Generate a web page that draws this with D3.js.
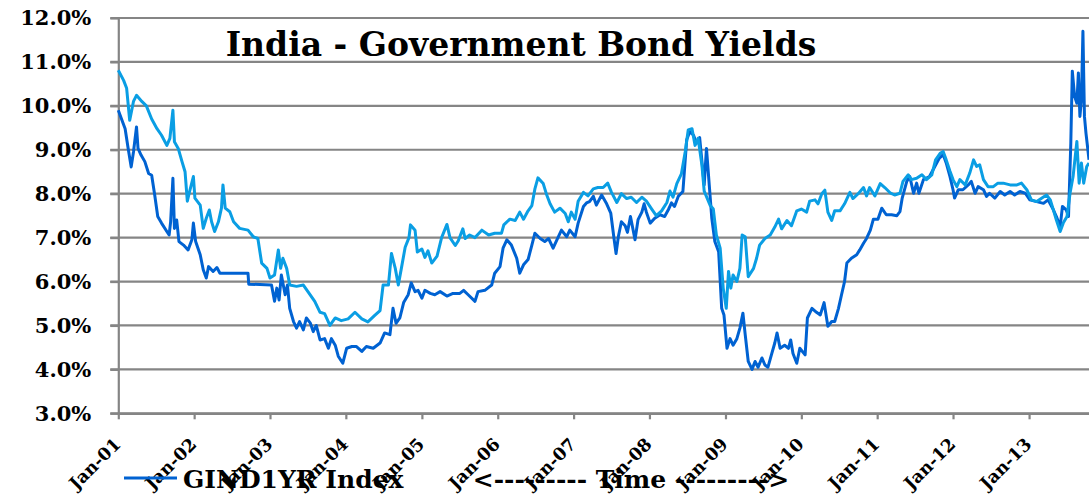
<!DOCTYPE html>
<html><head><meta charset="utf-8">
<script src="https://cdn.jsdelivr.net/npm/d3@7"></script>
<style>
body{margin:0;background:#fff;}
svg{display:block;}
text{font-family:"DejaVu Serif",serif;font-weight:bold;fill:#000;}
</style>
</head><body>
<svg id="chart" width="1089" height="496"></svg>
<script>
const chartTitle = "India - Government Bond Yields";
const legendLabel = "GIND1YR Index";
const axisTitle = "<--------- Time --------->";
const yTickValues = [3,4,5,6,7,8,9,10,11,12];
const xTickYears = [2001,2002,2003,2004,2005,2006,2007,2008,2009,2010,2011,2012,2013];

// GIND1YR (1-year yield), dates as decimal years
const dates1yr = [
2001.00,2001.04,2001.09,2001.13,2001.17,2001.20,2001.24,2001.26,2001.30,2001.35,
2001.40,2001.44,2001.48,2001.52,2001.57,2001.64,2001.67,2001.69,2001.72,2001.74,
2001.77,2001.80,2001.86,2001.92,2001.97,2001.99,2002.02,2002.08,2002.12,2002.16,
2002.19,2002.25,2002.30,2002.34,2002.71,2002.72,2003.02,2003.06,2003.09,2003.12,
2003.15,2003.20,2003.23,2003.26,2003.31,2003.35,2003.39,2003.44,2003.48,2003.53,
2003.57,2003.61,2003.66,2003.72,2003.77,2003.81,2003.86,2003.90,2003.96,2004.01,
2004.08,2004.14,2004.21,2004.27,2004.36,2004.45,2004.51,2004.58,2004.62,2004.66,
2004.71,2004.76,2004.82,2004.86,2004.91,2004.95,2005.00,2005.04,2005.11,2005.17,
2005.24,2005.33,2005.41,2005.50,2005.55,2005.61,2005.70,2005.74,2005.83,2005.92,
2005.96,2006.03,2006.07,2006.12,2006.18,2006.25,2006.29,2006.34,2006.40,2006.45,
2006.49,2006.56,2006.62,2006.67,2006.73,2006.78,2006.84,2006.91,2006.95,2007.02,
2007.06,2007.13,2007.17,2007.21,2007.26,2007.30,2007.37,2007.43,2007.49,2007.53,
2007.56,2007.59,2007.63,2007.68,2007.71,2007.75,2007.81,2007.85,2007.90,2007.93,
2007.96,2008.01,2008.07,2008.14,2008.20,2008.25,2008.29,2008.33,2008.38,2008.44,
2008.49,2008.53,2008.58,2008.62,2008.66,2008.72,2008.75,2008.79,2008.82,2008.86,
2008.91,2008.95,2008.98,2009.02,2009.06,2009.10,2009.15,2009.19,2009.23,2009.26,
2009.30,2009.35,2009.39,2009.43,2009.48,2009.52,2009.56,2009.61,2009.65,2009.68,
2009.72,2009.78,2009.83,2009.86,2009.89,2009.94,2009.98,2010.05,2010.08,2010.14,
2010.20,2010.25,2010.30,2010.35,2010.40,2010.44,2010.49,2010.53,2010.57,2010.60,
2010.66,2010.73,2010.77,2010.82,2010.86,2010.91,2010.95,2011.01,2011.06,2011.12,
2011.19,2011.26,2011.30,2011.33,2011.39,2011.43,2011.48,2011.52,2011.55,2011.61,
2011.69,2011.76,2011.82,2011.87,2011.91,2011.96,2012.00,2012.02,2012.07,2012.13,
2012.20,2012.24,2012.29,2012.33,2012.40,2012.44,2012.48,2012.55,2012.62,2012.68,
2012.75,2012.81,2012.88,2012.95,2013.01,2013.10,2013.19,2013.25,2013.31,2013.36,
2013.41,2013.44,2013.49,2013.52,2013.55,2013.57,2013.60,2013.63,2013.65,2013.67,
2013.69,2013.71,2013.73,2013.75,2013.77,2013.79
];
const yield1yr = [
9.90,9.71,9.48,9.03,8.61,8.95,9.52,9.03,8.88,8.73,
8.46,8.42,7.97,7.48,7.33,7.14,7.06,7.36,8.35,7.21,
7.40,6.91,6.83,6.72,6.95,7.33,6.91,6.61,6.27,6.08,
6.34,6.23,6.32,6.19,6.19,5.94,5.92,5.55,5.85,5.58,
6.15,5.70,5.92,5.39,5.09,4.94,5.09,4.90,5.17,5.06,
4.86,5.00,4.67,4.70,4.48,4.70,4.55,4.30,4.14,4.48,
4.52,4.52,4.41,4.52,4.48,4.60,4.83,4.79,5.39,5.05,
5.17,5.52,5.70,5.97,5.77,5.80,5.62,5.80,5.73,5.70,
5.77,5.67,5.73,5.73,5.80,5.70,5.55,5.77,5.80,5.92,
6.19,6.34,6.76,6.95,6.83,6.53,6.19,6.38,6.50,6.83,
7.10,6.98,6.91,6.98,6.76,6.95,7.17,7.02,7.17,7.02,
7.33,7.71,7.79,7.82,7.94,7.74,7.97,7.79,7.56,7.02,
6.64,7.02,7.36,7.27,7.12,7.48,6.95,7.41,7.58,7.77,
7.58,7.33,7.44,7.52,7.48,7.64,7.79,7.71,7.94,8.05,
9.23,9.41,9.33,9.15,9.28,8.20,9.03,8.12,7.44,6.91,
6.68,5.39,5.24,4.48,4.70,4.55,4.70,4.94,5.28,4.79,
4.18,4.00,4.18,4.05,4.26,4.10,4.05,4.36,4.60,4.83,
4.48,4.55,4.48,4.67,4.36,4.14,4.48,4.33,5.17,5.39,
5.30,5.24,5.52,4.98,5.09,5.09,5.39,5.70,6.00,6.42,
6.53,6.61,6.72,6.87,6.98,7.17,7.42,7.42,7.67,7.52,
7.52,7.50,7.59,7.90,8.28,8.39,8.01,8.24,8.01,8.32,
8.39,8.62,8.81,8.89,8.70,8.39,8.09,7.90,8.09,8.09,
8.20,8.28,8.01,8.16,8.09,7.94,8.01,7.90,8.05,7.97,
8.05,7.97,8.05,8.01,7.86,7.82,7.78,7.86,7.67,7.48,
7.25,7.71,7.63,7.48,9.15,10.79,10.22,10.06,10.75,9.76,
10.14,11.70,9.76,9.38,9.08,8.77
];

// 10-year yield (light series), dates as decimal years
const dates10yr = [
2001.00,2001.07,2001.11,2001.15,2001.20,2001.24,2001.31,2001.37,2001.44,2001.51,
2001.57,2001.64,2001.68,2001.72,2001.74,2001.79,2001.84,2001.88,2001.91,2001.94,
2001.99,2002.01,2002.08,2002.12,2002.16,2002.20,2002.23,2002.27,2002.32,2002.36,
2002.38,2002.41,2002.47,2002.52,2002.60,2002.71,2002.78,2002.84,2002.89,2002.96,
2003.00,2003.06,2003.11,2003.14,2003.17,2003.22,2003.26,2003.35,2003.44,2003.50,
2003.59,2003.66,2003.72,2003.79,2003.86,2003.94,2004.03,2004.12,2004.21,2004.29,
2004.38,2004.45,2004.49,2004.56,2004.60,2004.65,2004.69,2004.73,2004.78,2004.83,
2004.85,2004.91,2004.94,2005.00,2005.04,2005.08,2005.13,2005.20,2005.26,2005.33,
2005.37,2005.44,2005.48,2005.54,2005.57,2005.63,2005.70,2005.79,2005.88,2005.96,
2006.05,2006.08,2006.16,2006.23,2006.29,2006.34,2006.40,2006.45,2006.49,2006.53,
2006.60,2006.64,2006.69,2006.75,2006.82,2006.89,2006.93,2006.97,2007.02,2007.06,
2007.13,2007.19,2007.26,2007.32,2007.39,2007.45,2007.50,2007.57,2007.63,2007.70,
2007.76,2007.83,2007.90,2007.96,2008.03,2008.09,2008.16,2008.23,2008.27,2008.31,
2008.36,2008.42,2008.47,2008.51,2008.56,2008.60,2008.64,2008.69,2008.72,2008.80,
2008.84,2008.88,2008.93,2008.97,2009.01,2009.04,2009.07,2009.10,2009.15,2009.19,
2009.22,2009.26,2009.30,2009.37,2009.41,2009.45,2009.52,2009.59,2009.65,2009.70,
2009.74,2009.81,2009.87,2009.94,2010.00,2010.07,2010.11,2010.18,2010.22,2010.27,
2010.31,2010.35,2010.40,2010.44,2010.51,2010.57,2010.64,2010.68,2010.75,2010.82,
2010.86,2010.90,2010.97,2011.04,2011.10,2011.17,2011.23,2011.30,2011.34,2011.41,
2011.45,2011.52,2011.59,2011.65,2011.72,2011.77,2011.83,2011.87,2011.91,2011.96,
2012.00,2012.05,2012.09,2012.16,2012.22,2012.27,2012.31,2012.35,2012.40,2012.46,
2012.53,2012.59,2012.66,2012.75,2012.84,2012.90,2012.97,2013.03,2013.10,2013.17,
2013.23,2013.28,2013.32,2013.36,2013.41,2013.45,2013.50,2013.54,2013.58,2013.63,
2013.66,2013.69,2013.72,2013.76,2013.79
];
const yield10yr = [
10.81,10.58,10.40,9.67,10.10,10.24,10.10,10.00,9.70,9.48,
9.33,9.10,9.26,9.90,9.18,9.03,8.73,8.50,7.83,8.05,
8.39,7.90,7.74,7.21,7.44,7.63,7.36,7.14,7.36,7.67,
8.20,7.67,7.59,7.36,7.21,7.17,7.02,6.98,6.42,6.30,
6.08,6.15,6.72,6.30,6.53,6.30,5.92,5.89,5.92,5.77,
5.55,5.30,5.27,5.00,5.17,5.11,5.15,5.30,5.15,5.08,
5.23,5.34,5.92,5.92,6.64,6.30,5.92,6.30,6.78,7.00,
7.29,7.17,6.67,6.74,6.55,6.70,6.42,6.58,7.00,7.30,
7.00,6.82,6.93,7.20,6.98,7.06,7.00,7.17,7.06,7.10,
7.10,7.29,7.42,7.39,7.58,7.42,7.61,7.73,8.11,8.36,
8.23,8.00,7.77,7.58,7.67,7.55,7.36,7.58,7.42,7.83,
8.03,7.95,8.11,8.14,8.14,8.24,8.03,7.80,8.00,7.89,
7.92,7.80,7.92,7.83,7.65,7.50,7.61,7.80,8.06,7.92,
8.23,8.45,8.95,9.45,9.48,9.10,9.26,8.65,8.06,7.73,
7.65,7.06,6.76,5.85,5.39,6.23,5.85,6.15,6.00,6.30,
7.06,7.02,6.11,6.30,6.53,6.83,6.98,7.06,7.24,7.42,
7.20,7.39,7.27,7.61,7.65,7.58,7.83,7.86,7.77,8.00,
8.08,7.58,7.39,7.61,7.61,7.77,8.03,7.89,8.00,8.14,
7.95,8.14,7.95,8.23,8.14,8.02,7.97,8.01,8.28,8.43,
8.32,8.35,8.43,8.32,8.43,8.77,8.92,8.96,8.77,8.51,
8.32,8.16,8.32,8.20,8.47,8.77,8.62,8.66,8.32,8.16,
8.16,8.24,8.24,8.20,8.20,8.24,8.09,7.86,7.82,7.90,
7.97,7.86,7.63,7.40,7.14,7.33,7.48,8.01,8.39,9.19,
8.24,8.70,8.24,8.62,8.70
];

const darkBlue = "#0062d2";
const lightBlue = "#0a9ee4";
const gridColor = "#858585";

function toDate(d){
  const yr = Math.floor(d + 1e-9);
  const s = Date.UTC(yr,0,1), e = Date.UTC(yr+1,0,1);
  return new Date(s + (d - yr) * (e - s));
}

const svg = d3.select("#chart");
const plotLeft = 118.3, plotRight = 1089, plotTop = 18, plotBottom = 413.3;

const xScale = d3.scaleUtc()
  .domain([toDate(dates1yr[0]), toDate(dates1yr[dates1yr.length-1])])
  .range([plotLeft, plotRight]);
const yScale = d3.scaleLinear().domain([3,12]).range([plotBottom, plotTop]);

// horizontal gridlines
svg.append("g").selectAll("line").data(yTickValues).join("line")
  .attr("x1", plotLeft - 8).attr("x2", plotRight)
  .attr("y1", d => yScale(d)).attr("y2", d => yScale(d))
  .attr("stroke", gridColor).attr("stroke-width", 2.2);

// y axis
const yAxisG = svg.append("g").attr("transform", `translate(${plotLeft},0)`)
  .call(d3.axisLeft(yScale).tickValues(yTickValues).tickFormat(d => d.toFixed(1) + "%").tickSize(8).tickPadding(19).tickSizeOuter(0));
yAxisG.select(".domain").attr("stroke", gridColor).attr("stroke-width", 2.2);
yAxisG.selectAll(".tick line").attr("stroke", gridColor).attr("stroke-width", 2.2);
yAxisG.selectAll(".tick text").style("font-family", '"DejaVu Serif", serif').style("font-weight", "bold").style("font-size", "21px").attr("fill", "#000");

// x axis
const xAxisG = svg.append("g").attr("transform", `translate(0,${plotBottom})`)
  .call(d3.axisBottom(xScale).tickValues(xTickYears.map(v => toDate(v))).tickFormat(d3.utcFormat("%b-%y")).tickSize(6).tickSizeOuter(0));
xAxisG.select(".domain").attr("stroke", gridColor).attr("stroke-width", 2.2);
xAxisG.selectAll(".tick line").attr("stroke", gridColor).attr("stroke-width", 2.2);
xAxisG.selectAll(".tick text")
  .attr("x", 0).attr("y", 0).attr("dy", 0)
  .attr("transform", "translate(3,32) rotate(-45)")
  .style("text-anchor", "end")
  .style("font-family", '"DejaVu Serif", serif').style("font-weight", "bold").style("font-size", "17.5px").attr("fill", "#000");

// series
const lineGen = d3.line().x(d => xScale(d.date)).y(d => yScale(d.value));
const s1 = dates1yr.map((d,i) => ({date: toDate(d), value: yield1yr[i]}));
const s10 = dates10yr.map((d,i) => ({date: toDate(d), value: yield10yr[i]}));

svg.append("path").datum(s1).attr("d", lineGen)
  .attr("fill", "none").attr("stroke", darkBlue).attr("stroke-width", 3).attr("stroke-linejoin", "round");
svg.append("path").datum(s10).attr("d", lineGen)
  .attr("fill", "none").attr("stroke", lightBlue).attr("stroke-width", 3).attr("stroke-linejoin", "round");

// title
svg.append("text").attr("x", 521).attr("y", 56).attr("text-anchor", "middle")
  .style("font-size", "33px").text(chartTitle);

// legend
svg.append("line").attr("x1", 124).attr("x2", 177).attr("y1", 478).attr("y2", 478)
  .attr("stroke", darkBlue).attr("stroke-width", 3);
svg.append("text").attr("x", 183).attr("y", 488).style("font-size", "25px").text(legendLabel);

// axis title
svg.append("text").attr("x", 631).attr("y", 488).attr("text-anchor", "middle")
  .style("font-size", "25px").text(axisTitle);
</script>
</body></html>
